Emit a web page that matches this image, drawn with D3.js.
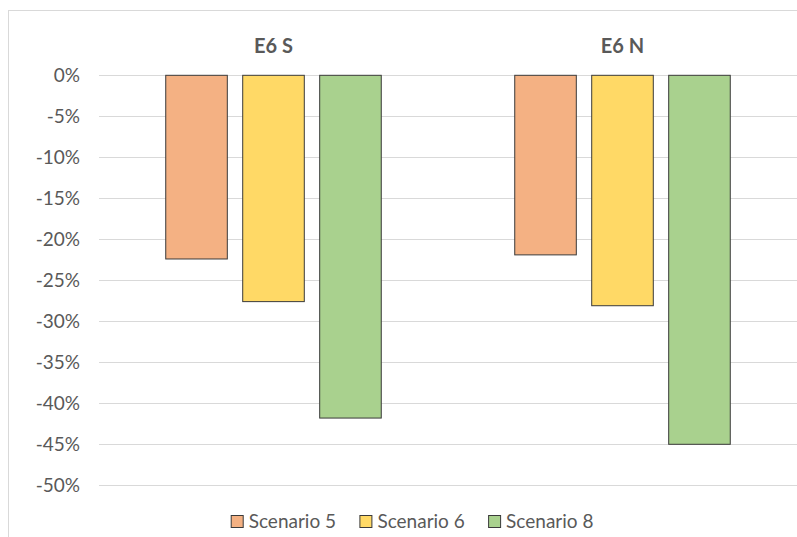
<!DOCTYPE html>
<html>
<head>
<meta charset="utf-8">
<script src="https://cdn.jsdelivr.net/npm/d3@7"></script>
<style>
  html, body { margin: 0; padding: 0; background: #fff; }
  svg { display: block; font-family: Lato, "Open Sans", sans-serif; }
</style>
</head>
<body>
<svg id="chart" width="797" height="537"></svg>
<script>
// Percentage change by site and scenario
const categories = ["E6 S", "E6 N"];
const seriesNames = ["Scenario 5", "Scenario 6", "Scenario 8"];
const scenario5 = [-22.4, -21.9];
const scenario6 = [-27.6, -28.1];
const scenario8 = [-41.8, -45.0];
const yTicks = [0, -5, -10, -15, -20, -25, -30, -35, -40, -45, -50];
const colors = ["#F4B183", "#FFD966", "#A9D18E"];

const seriesValues = [scenario5, scenario6, scenario8];

const svg = d3.select("#chart");
const textColor = "#595959";

// Chart frame
svg.append("rect")
  .attr("x", 8.5).attr("y", 10.5)
  .attr("width", 800).attr("height", 540)
  .attr("fill", "#fff")
  .attr("stroke", "#d9d9d9").attr("stroke-width", 1);

const plot = { left: 99, right: 797, top: 75.3, bottom: 485.3 };

const y = d3.scaleLinear().domain([0, -50]).range([plot.top, plot.bottom]);

const x0 = d3.scaleBand().domain(categories).range([plot.left, plot.right]).padding(0);
const x1 = d3.scaleBand().domain(seriesNames).range([0, x0.bandwidth()])
  .paddingInner(0.2).paddingOuter(0.867);

// Horizontal gridlines
svg.append("g").selectAll("line").data(yTicks).join("line")
  .attr("x1", plot.left).attr("x2", plot.right)
  .attr("y1", d => Math.round(y(d)) + 0.5).attr("y2", d => Math.round(y(d)) + 0.5)
  .attr("stroke", "#d9d9d9").attr("stroke-width", 1);

// Value axis labels
const yAxis = svg.append("g")
  .attr("transform", `translate(${plot.left},0)`)
  .call(d3.axisLeft(y).tickValues(yTicks).tickFormat(d => d + "%").tickSize(0).tickPadding(19));
yAxis.select(".domain").remove();
yAxis.selectAll("text")
  .attr("fill", textColor)
  .style("font-size", "19px")
  .style("font-family", "Lato, 'Open Sans', sans-serif");

// Category labels along the top
const xAxis = svg.append("g")
  .attr("transform", `translate(0,45.5)`)
  .call(d3.axisTop(x0).tickSize(0).tickPadding(0));
xAxis.select(".domain").remove();
xAxis.selectAll("text")
  .attr("fill", textColor)
  .attr("dy", "0.35em")
  .style("font-size", "20px")
  .style("font-weight", "bold")
  .style("font-family", "Lato, 'Open Sans', sans-serif");

// Bars
const groups = svg.append("g").selectAll("g").data(categories).join("g")
  .attr("transform", d => `translate(${x0(d)},0)`);

groups.selectAll("rect")
  .data((c, ci) => seriesNames.map((s, si) => ({ s, si, v: seriesValues[si][ci] })))
  .join("rect")
  .attr("x", d => x1(d.s))
  .attr("y", d => y(0))
  .attr("width", x1.bandwidth())
  .attr("height", d => y(d.v) - y(0))
  .attr("fill", d => colors[d.si])
  .attr("stroke", "#3a3a3a")
  .attr("stroke-width", 1);

// Legend
const legend = svg.append("g").attr("transform", "translate(230.7,515)");
const item = legend.selectAll("g").data(seriesNames).join("g")
  .attr("transform", (d, i) => `translate(${i * 128.7},0)`);
item.append("rect")
  .attr("x", 0.5).attr("y", 0.5)
  .attr("width", 12).attr("height", 12)
  .attr("fill", (d, i) => colors[i])
  .attr("stroke", "#3a3a3a").attr("stroke-width", 1);
item.append("text")
  .attr("x", 18).attr("y", 6.5)
  .attr("dy", "0.35em")
  .attr("fill", textColor)
  .style("font-size", "19px")
  .text(d => d);
</script>
</body>
</html>
